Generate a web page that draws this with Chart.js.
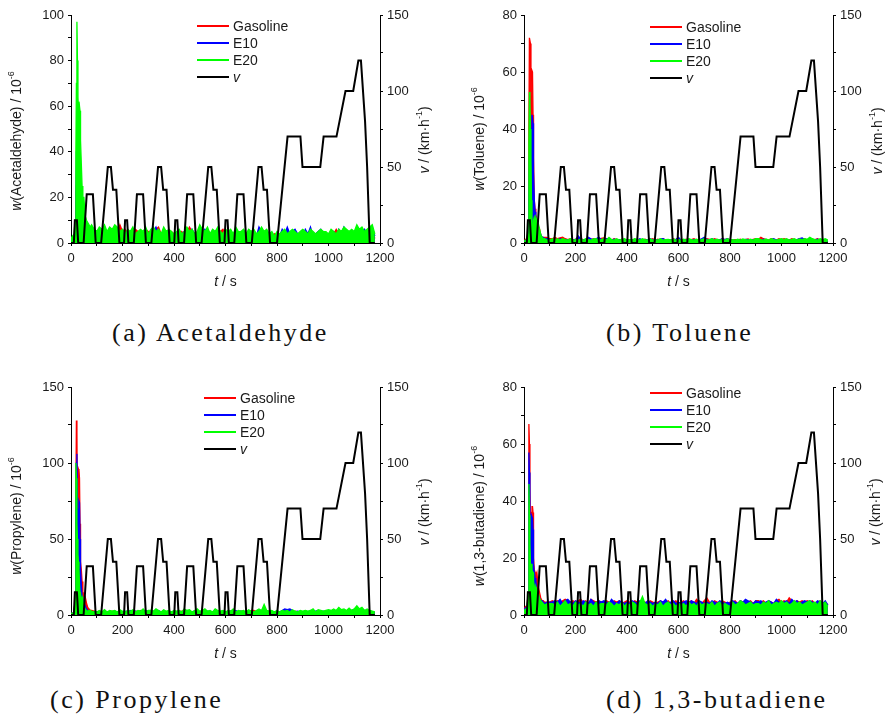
<!DOCTYPE html>
<html>
<head>
<meta charset="utf-8">
<script src="https://cdn.jsdelivr.net/npm/chart.js@4.4.1/dist/chart.umd.min.js"></script>
<style>
  html, body { margin: 0; padding: 0; background: #fff; width: 886px; height: 722px; overflow: hidden; }
  .panel { position: absolute; width: 433px; height: 300px; }
  .caption { position: absolute; font-family: "Liberation Serif", "Times New Roman", serif; font-size: 26px;
             letter-spacing: 2.5px; color: #111; white-space: nowrap; line-height: 26px; }
</style>
</head>
<body>
<div class="panel" style="left:0;top:0"><canvas id="cA" width="433" height="300"></canvas></div>
<div class="panel" style="left:453px;top:0"><canvas id="cB" width="433" height="300"></canvas></div>
<div class="panel" style="left:0;top:372px"><canvas id="cC" width="433" height="300"></canvas></div>
<div class="panel" style="left:453px;top:372px"><canvas id="cD" width="433" height="300"></canvas></div>
<div class="caption" style="left:112px;top:320px">(a) Acetaldehyde</div>
<div class="caption" style="left:606px;top:320px">(b) Toluene</div>
<div class="caption" style="left:50px;top:687px">(c) Propylene</div>
<div class="caption" style="left:606px;top:687px">(d) 1,3-butadiene</div>

<script>
// Sampling times (s) of the emission traces
const tSec = [0,6,12,16,19,21,23,25,27,29,31,33,35,37,40,43,46,50,55,60,65,70,75,80,90,100,
  110,120,130,140,150,160,170,180,190,200,210,220,230,240,250,260,270,280,290,300,
  310,320,330,340,350,360,370,380,390,400,410,420,430,440,450,460,470,480,490,500,
  510,520,530,540,550,560,570,580,590,600,610,620,630,640,650,660,670,680,690,700,
  710,720,730,740,750,760,770,780,790,800,810,820,830,840,850,860,870,880,890,900,
  910,920,930,940,950,960,970,980,990,1000,1010,1020,1030,1040,1050,1060,1070,1080,1090,1100,
  1110,1120,1130,1140,1150,1160,1170,1180];

// NEDC vehicle speed profile (km/h)
const speedT = [0,11,15,23,28,49,61,85,96,117,143,155,163,176,188,
  206,210,218,223,244,256,280,291,312,338,350,358,371,383,
  401,405,413,418,439,451,475,486,507,533,545,553,566,578,
  596,600,608,613,634,646,670,681,702,728,740,748,761,773,
  800,841,891,899,968,981,1031,1066,1096,1116,1126,1142,1150,1160,1180];
const speedV = [0,0,15,15,0,0,32,32,0,0,50,50,35,35,0,
  0,15,15,0,0,32,32,0,0,50,50,35,35,0,
  0,15,15,0,0,32,32,0,0,50,50,35,35,0,
  0,15,15,0,0,32,32,0,0,50,50,35,35,0,
  0,70,70,50,50,70,70,100,100,120,120,80,50,0,0];

// (a) Acetaldehyde, 10^-6
const acetGas = [1,2,3,5,15,25,30,28,18,30,25,28,20,12,8,6,12,13,12,8,6,5,5,6,5,4,
  4,5,6,4,5,3,6,5,8,5, 6,4,5,4,6,5,4,3,6,5, 4,5,6,7,4,5,4,3,5,4, 4,3,5,4,5,7,5,4,4,5,
  4,5,6,4,5,3,6,5,6,4, 5,4,3,5,4,4,5,3,4,5, 4,3,5,4,3,4,3,2,4,3, 4,3,5,4,3,4,5,3,3,4,
  4,3,5,4,3,4,5,3,4,3, 5,4,6,4,3,5,4,3,4,4, 5,3,4,5,3,4,5,2];
const acetE10 = [1,2,3,5,20,40,50,59,45,40,43,38,30,20,12,9,8,8,9,8,7,6,5,5,4,5,
  5,4,6,3,5,4,5,4,3,4, 3,4,5,4,3,4,5,4,3,4, 4,5,7,4,3,4,4,5,4,3, 4,3,4,5,4,3,6,4,4,5,
  4,6,4,3,4,5,4,4,3,4, 4,5,3,4,4,5,4,3,5,4, 4,3,7,5,4,5,3,4,2,4, 3,6,4,7,4,5,6,4,4,3,
  6,4,7,3,4,5,6,4,3,4, 4,5,3,6,4,7,5,4,5,3, 7,5,4,6,4,5,7,3];
const acetE20 = [2,3,4,10,40,70,97,80,64,58,62,60,58,45,35,25,20,20,12,10,9,8,7,8,6,5,
  7,6,8,5,7,6,8,7,5,6, 4,6,5,7,4,5,6,5,7,4, 6,7,5,6,4,7,5,6,5,4, 5,6,4,5,7,5,6,4,5,8,
  6,5,7,4,6,5,7,5,4,6, 5,6,4,7,5,5,6,4,6,5, 6,4,5,7,5,6,4,5,3,5, 4,5,6,4,5,6,5,4,5,6,
  5,4,6,5,4,5,6,5,5,4, 6,5,4,6,5,7,6,5,6,5, 8,6,7,5,6,7,8,4];

// (b) Toluene, 10^-6
const tolGas = [1,1,2,4,40,72,72,70,50,61,61,60,45,30,15,12,10,8,6,5,3,2,2,2,2,1.5,
  1.5,2,1.5,1.8,2,1.5,1.2,1.5,1,1.3, 1,1.5,1.2,1,1.5,1.2,1.5,1.4,1.2,1.6, 1.8,1.5,1.2,1,1.5,1.2,1,1.3,1,1.2,
  1.2,1,1.3,1,1.2,1,1.3,1,1.2,1.5, 1,1.3,1,1.5,1,1.2,1,1.5,1,1.2, 1.2,1,1.3,1,1.2,1.5,1,1.3,1,1.2,
  1.5,1.3,1,1.5,1.2,1,1.5,1.2,1.4,1.2, 1,1.2,1,1.3,1,1.2,1.4,1,1.3,1.5, 1.2,2,1.5,1.2,1,1.5,1.2,1,1.5,1.2,
  1.5,1.2,1,1.5,1.2,1,1.5,1.2,1.5,1, 1.5,1,1.2,1.5,1,1.2,1,0.5];
const tolE10 = [0.5,1,1,2,15,30,35,30,33,40,45,44,42,25,15,11,9,7,5,4,3,2,2,1.5,1.5,1,
  1,1.2,0.8,1.5,1,1.2,1,0.8,1.2,1, 2.5,1.5,1,1.2,2,1.5,1,1.5,2,1.2, 1,1.5,1.2,1,1.3,1,1.2,0.8,1,1.2,
  1,1.2,0.8,1,1.5,1,1.2,1,1.5,1, 1.2,1,1.4,1.5,1,1.2,1,1,1.3,2, 1,1.2,1,1.3,1,1.2,1,1,1.5,2,
  1.2,1,1.5,1,1.2,1,1.5,1.2,1.5,1, 1,0.8,1.2,1,1,1.3,1.2,1,1.2,1, 1.2,1,1.3,1,0.8,1.2,1.5,1,1.2,1,
  1,1.2,1,0.8,1,1.2,1.5,1.8,1.2,1, 1.5,1.2,1,1.3,1,1.2,0.8,0.5];
const tolE20 = [0.5,1,1,3,35,53,50,40,30,15,8,5,6,8,9,8,9,8,7,5,3,2,1.5,1.5,1,1,
  1.5,1,1.5,1,1.5,1.2,1,1.5,1,1.2, 1,1.3,1,1.5,1.2,1,1.4,1.5,1,1.2, 1.5,1,2,1.2,1,1.5,1,1.3,1.5,1,
  1.2,1,1.5,1.3,1,1.5,1.2,1,1.4,1, 1.2,1,1.5,1,1.2,1.3,1,1.4,1,1.2, 1,1.3,1,1.5,1.2,1,1.3,1,1.2,1.5,
  1,1.2,1.5,1,1.3,1,1.2,1,1.5,1, 1.2,1,1.3,1,1.4,1.2,1,1.3,1,1.5, 1.5,1.2,1,1.4,1,1.5,1.2,1,1.3,1.5,
  1.2,1.5,1,1.3,1.5,1,1.4,1.2,1.5,1.3, 2,1.5,1.2,1,1.5,1.2,1.5,1];

// (c) Propylene, 10^-6
const propGas = [1,1,2,10,80,128,120,60,70,96,95,90,60,35,30,22,15,14,12,8,5,4,3,3,2.5,2,
  2.5,2,2.5,2,2,2.5,2,2,2.5,2, 2,2.5,2,2,2.5,2,3,2,2,2.5, 3,2,2.5,2,2,2.5,2,2,2,2,
  2,2,2.5,2,2,2.5,2,2,2,2, 2,2.5,2,2,2,2.5,2,2,2,2, 2,2.5,2,2,2,2.5,2,2,2,3,
  3,2,2.5,2,2,2,2.5,2,2,2, 2,2.5,2,3,2.5,2,2.5,2,2,2, 2,2,2.5,2,2,2.5,2,2,2.5,2,
  2,2.5,2,2,2.5,2,2.5,2,3,3, 4.5,3,3.5,2.5,3,2.5,2,1.5];
const propE10 = [1,1,2,8,60,100,106,70,55,65,75,74,50,30,20,12,10,8,6,4,3,2.5,2.5,2,2,2,
  2,1.5,2,1.5,2,2,2.5,2,2,2, 2.5,2,3,2,2.5,2,2.5,2,3,2, 2,2.5,2,3,2,2,1.5,2,2,1.5,
  2,2.5,2,2,3,2,2,2.5,2,2, 2,2,2.5,2,2,1.5,2,2,2.5,2, 2,2.5,2,3,2,2.5,2,2,2.5,2,
  2,2.5,2,3,2,2.5,2,2,2,2.5, 2,3,4,3.5,4,3,2,2.5,2,2, 2.5,2,3,2,2.5,3,2,2.5,2,3,
  2.5,2,3,2.5,2,3,2.5,2,3,3.5, 4,3,4,3,2.5,3,2,1.5];
const propE20 = [1,1,2,10,100,90,60,50,40,35,30,20,15,12,10,12,10,6,4,3,2.5,3,3,2.5,2,2,
  3,2,3.5,2,3,2.5,3,2,3.5,2.5, 2,3,2.5,3.5,2,3,2.5,4,2,3, 3,2.5,4,3,2,3.5,2.5,3,2,3,
  2.5,3,2,4,3,3.5,2,3,4,2.5, 3,4,2.5,3,2,4,3,2.5,3,2, 3,2.5,4,2,3,2.5,3,2,3.5,2.5,
  2,3,4,3,7,3,2.5,3,2,3, 2,3,2.5,3,2,3.5,2.5,2,3,2.5, 3,2.5,3,4,2,3.5,3,2.5,3,3.5,
  3,4,3,5,3.5,4,3,4.5,3,4, 6,4,5,3,4,3,2.5,2];

// (d) 1,3-butadiene, 10^-6
const butGas = [2,3,3,8,67,60,45,30,35,36,38,38,36,20,16,15,14,15,10,8,6,5,5,4.5,4.5,4.5,
  5,4.5,5,4.5,5,5.5,5,4.5,5,4.5, 5,5.5,4.5,5,4,5.5,5,4.5,5,4.5, 4.5,5,4.5,4,5,4.5,5,4,4.5,5,
  4.5,4,5,4.5,4,5,4.5,4,5,4.5, 4,4.5,5,4,4.5,5,4,4.5,5,4, 4.5,5,4,4.5,5,4,5.5,4.5,4,5,
  6,4.5,4,5,4.5,4,5,4.5,4,4.5, 4.5,5,4,5,4.5,5,4.5,5,4,5, 5,4.5,5,4,5,4.5,4,5,5.5,4.5,
  5,4.5,6,5,4.5,5,4.5,5,4.5,5, 4.5,5,4,4.5,5,4,4.5,3.5];
const butE10 = [2,2.5,3,6,57,50,35,30,33,35,35,34,30,18,15,13,12,8,7,6,5,5,4.5,4,4.5,4.5,
  4.5,5,4.5,5.5,4,5,5.5,4.5,4,5, 4.5,4,5,4.5,4,5.5,4.5,4,5,4.5, 5,4.5,4,5.5,4.5,4,5,4.5,4,4.5,
  4,5,4.5,4,5,4.5,4,5,4.5,4, 4.5,4,5,4.5,5.5,4,4.5,5,4,4.5, 4,4.5,5,4,5,4.5,4,5,4.5,4,
  4.5,4,5,4.5,4,5,4.5,4,4.5,4, 5,4.5,4,5,4.5,5.5,5,4.5,4,5, 4.5,5,4,4.5,5,4.5,4,5.5,4.5,4,
  4.5,5,4,5.5,4.5,5,4,4.5,5,4.5, 5,4.5,4,5,4.5,4,5,3.5];
const butE20 = [1.5,2,2.5,8,46,35,25,18,16,18,16,15,15,12,10,9,10,9,8,6,5,4.5,4,3.5,4,4,
  4,3.5,4.5,3,4,5,3.5,4,3,4.5, 3.5,4,3,4.5,3.5,4,3,4.5,3.5,4, 4,3.5,4.5,4,3,4,3.5,4.5,3,4,
  3.5,4.5,4,3,4.5,6.5,4,3.5,4,3, 4,3.5,4.5,3,4,4.5,3.5,4,3,4, 3.5,4,3,4.5,3.5,4,3,4.5,3.5,4,
  4,3.5,4.5,3,4,4.5,3,4,3.5,3, 4.5,3.5,4,5,4.5,3.5,4,4.5,3.5,4, 4,3.5,4.5,4,5,3.5,4,4.5,4,5,
  4,4.5,3.5,4,5,4,4.5,3.5,4,4.5, 5,4,4.5,3.5,5,4,4.5,3];

// Axis ranges and ticks of the left (emission) axes
const wMax   = [100, 80, 150, 80];
const wStep  = [10, 10, 25, 10];
const wMajor = [20, 20, 50, 20];
const species = ['Acetaldehyde', 'Toluene', 'Propylene', '1,3-butadiene'];
const seriesNames = ['Gasoline', 'E10', 'E20', 'v'];
const seriesColors = ['#ff0000', '#0000ff', '#00ff00', '#000000'];

const FONT = '"Liberation Sans", Arial, Helvetica, sans-serif';
Chart.defaults.font.family = FONT;
Chart.defaults.color = '#1a1a1a';

function pts(xs, ys) { return xs.map((x, i) => ({ x: x, y: ys[i] })); }

// Draws a run of text pieces (some italic / superscript) centred on (cx, cy)
function drawRich(ctx, segs, cx, cy, rot) {
  ctx.save();
  ctx.translate(cx, cy);
  ctx.rotate(rot);
  const fontOf = s => (s.it ? 'italic ' : '') + (s.sup ? 9 : 14) + 'px ' + FONT;
  const widths = segs.map(s => { ctx.font = fontOf(s); return ctx.measureText(s.t).width; });
  let x = -widths.reduce((a, b) => a + b, 0) / 2;
  ctx.fillStyle = '#1a1a1a';
  ctx.textBaseline = 'middle';
  ctx.textAlign = 'left';
  segs.forEach((s, i) => { ctx.font = fontOf(s); ctx.fillText(s.t, x, s.sup ? -5 : 0); x += widths[i]; });
  ctx.restore();
}

// Axis titles and legend, laid out relative to the plot area
function decor(cfg) {
  return {
    id: 'decor' + cfg.idx,
    afterDraw(chart) {
      const ctx = chart.ctx, a = chart.chartArea;
      drawRich(ctx, [{ t: 'w', it: true }, { t: '(' + cfg.name + ') / 10' }, { t: '-6', sup: true }],
               cfg.lx, a.top + cfg.ly, -Math.PI / 2);
      drawRich(ctx, [{ t: 'v', it: true }, { t: ' / (km\u00b7h' }, { t: '-1', sup: true }, { t: ')' }],
               cfg.rx, a.top + cfg.ry, -Math.PI / 2);
      drawRich(ctx, [{ t: 't', it: true }, { t: ' / s' }], (a.left + a.right) / 2, a.bottom + 39, 0);
      // legend
      chart.data.datasets.forEach((ds, i) => {
        const y = a.top + cfg.gy + i * 17;
        const x0 = a.left + cfg.gx;
        ctx.save();
        ctx.strokeStyle = ds.borderColor;
        ctx.lineWidth = 2;
        ctx.beginPath(); ctx.moveTo(x0, y); ctx.lineTo(x0 + 32, y); ctx.stroke();
        ctx.fillStyle = '#1a1a1a';
        ctx.font = (ds.label === 'v' ? 'italic ' : '') + '14px ' + FONT;
        ctx.textBaseline = 'middle';
        ctx.fillText(ds.label, x0 + 36, y + 1);
        ctx.restore();
      });
    }
  };
}

const panels = [
  { idx: 0, canvas: 'cA', gas: acetGas, e10: acetE10, e20: acetE20, lx: 17, ly: 126, rx: 425, ry: 125, gx: 126, gy: 11 },
  { idx: 1, canvas: 'cB', gas: tolGas,  e10: tolE10,  e20: tolE20,  lx: 27, ly: 124, rx: 425, ry: 126, gx: 126, gy: 12 },
  { idx: 2, canvas: 'cC', gas: propGas, e10: propE10, e20: propE20, lx: 17, ly: 129, rx: 425, ry: 125, gx: 133, gy: 11 },
  { idx: 3, canvas: 'cD', gas: butGas,  e10: butE10,  e20: butE20,  lx: 27, ly: 129, rx: 423, ry: 125, gx: 126, gy: 6 }
];

panels.forEach(p => {
  p.name = species[p.idx];
  const emis = [p.gas, p.e10, p.e20];
  const datasets = emis.map((vals, k) => ({
    label: seriesNames[k],
    data: pts(tSec, vals),
    borderColor: seriesColors[k],
    backgroundColor: seriesColors[k],
    borderWidth: 1.3,
    pointRadius: 0,
    fill: 'origin',
    yAxisID: 'y',
    order: 3 - k
  }));
  datasets.push({
    label: seriesNames[3],
    data: pts(speedT, speedV),
    borderColor: seriesColors[3],
    backgroundColor: seriesColors[3],
    borderWidth: 2,
    pointRadius: 0,
    fill: false,
    yAxisID: 'yR',
    order: 0
  });

  const axisLine = { display: true, color: '#000', width: 1 };
  const tickMarks = { display: true, drawOnChartArea: false, drawTicks: true, tickLength: 3, color: '#000' };
  const tickFont = { size: 13, family: FONT };

  new Chart(document.getElementById(p.canvas), {
    type: 'line',
    data: { datasets: datasets },
    options: {
      responsive: false,
      animation: false,
      events: [],
      layout: { padding: { top: 15, left: 0, right: 0, bottom: 0 } },
      plugins: { legend: { display: false }, tooltip: { enabled: false } },
      elements: { line: { tension: 0 } },
      scales: {
        x: {
          type: 'linear', min: 0, max: 1200,
          border: axisLine, grid: tickMarks,
          ticks: { stepSize: 100, autoSkip: false, maxRotation: 0, padding: 5, font: tickFont,
                   callback: v => (v % 200 === 0 ? String(v) : '') },
          afterFit: s => { s.height = 57; }
        },
        y: {
          type: 'linear', position: 'left', min: 0, max: wMax[p.idx],
          border: axisLine, grid: tickMarks,
          ticks: { stepSize: wStep[p.idx], autoSkip: false, padding: 4, font: tickFont,
                   callback: v => (v % wMajor[p.idx] === 0 ? String(v) : '') },
          afterFit: s => { s.width = 71; }
        },
        yR: {
          type: 'linear', position: 'right', min: 0, max: 150,
          border: axisLine, grid: tickMarks,
          ticks: { stepSize: 25, autoSkip: false, padding: 4, font: tickFont,
                   callback: v => (v % 50 === 0 ? String(v) : '') },
          afterFit: s => { s.width = 53; }
        }
      }
    },
    plugins: [decor(p)]
  });
});
</script>
</body>
</html>
